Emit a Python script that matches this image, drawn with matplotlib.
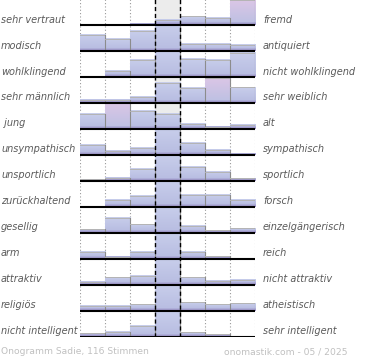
import matplotlib
matplotlib.use("Agg")
import matplotlib.pyplot as plt
import numpy as np
from matplotlib.colors import to_rgb

# semantic differential pairs (left / right pole)
left_labels = ["sehr vertraut", "modisch", "wohlklingend", "sehr männlich", " jung",
               "unsympathisch", "unsportlich", "zurückhaltend", "gesellig", "arm",
               "attraktiv", "religiös", "nicht intelligent"]
right_labels = ["fremd", "antiquiert", "nicht wohlklingend", "sehr weiblich", "alt",
                "sympathisch", "sportlich", "forsch", "einzelgängerisch", "reich",
                "nicht attraktiv", "atheistisch", "sehr intelligent"]

# relative bar heights per row (7 steps, 100 = full row)
heights = [
    [0, 0, 6, 19, 33, 26, 95],
    [62, 45, 77, 100, 27, 27, 22],
    [1, 24, 67, 100, 69, 65, 94],
    [12, 12, 23, 77, 58, 97, 60],
    [58, 100, 68, 58, 20, 8, 15],
    [37, 15, 28, 100, 47, 18, 5],
    [6, 12, 46, 100, 55, 36, 10],
    [0, 28, 42, 100, 47, 45, 27],
    [13, 58, 33, 100, 26, 9, 17],
    [27, 8, 27, 100, 26, 10, 0],
    [12, 28, 35, 100, 28, 15, 18],
    [19, 19, 24, 100, 33, 24, 28],
    [13, 19, 42, 100, 17, 9, 0],
]

footer_left = "Onogramm Sadie, 116 Stimmen"
footer_right = "onomastik.com - 05 / 2025"

W, H = 370, 360
fig = plt.figure(figsize=(W / 100, H / 100), dpi=100)
fig.patch.set_facecolor("white")

x0_px, x1_px = 79.7, 255.0
top_px, base_px = -0.9, 336.7
ax = fig.add_axes([x0_px / W, (H - base_px) / H, (x1_px - x0_px) / W, (base_px - top_px) / H])
ax.axis("off")

nrows = len(heights)
ax.axvspan(3, 4, color="#ececec", zorder=0)

for x in [0, 1, 2, 5, 6, 7]:
    ax.plot([x, x], [0, 13], color="#999999", lw=0.8, ls=(0, (1, 2)), zorder=1)


def grad(c_top, c_bot, n=32):
    a = np.array(to_rgb(c_top))
    b = np.array(to_rgb(c_bot))
    t = np.linspace(0, 1, n)[:, None]
    return (a * (1 - t) + b * t)[:, None, :]


blue_main = grad("#c8ceeb", "#b9bee2")
pink_main = grad("#dcc6e6", "#bfc1e3")
stripe = grad("#b3b5dd", "#9686c0", 8)

for k, row in enumerate(heights):
    base = nrows - 1 - k
    vals = np.array(row) / 100.0
    center = vals[3]
    for i, v in enumerate(vals):
        if v <= 0:
            continue
        pink = v > center and v == vals.max() and i != 3
        img = pink_main if pink else blue_main
        sh = min(0.1, v)
        ax.imshow(img, extent=[i, i + 1, base + sh, base + v], aspect="auto",
                  interpolation="bilinear", zorder=2)
        ax.imshow(stripe, extent=[i, i + 1, base, base + sh], aspect="auto",
                  interpolation="bilinear", zorder=2)
        ax.plot([i, i + 1], [base + v, base + v], color="#b4b4b4", lw=0.7, zorder=3)
        ax.plot([i + 1, i + 1], [base, base + v], color="#8c8c8c", lw=0.8, zorder=3)
    ax.plot([0, 7], [base, base], color="black", lw=1.5, zorder=5, solid_capstyle="butt")

for x in [3, 4]:
    ax.plot([x, x], [0, 13], color="black", lw=1.0, ls=(0, (3, 2)), zorder=6)

ax.set_xlim(0, 7)
ax.set_ylim(0, 13)

row_h = (base_px - top_px) / 13
for k in range(nrows):
    yb = top_px + row_h * (k + 1)
    y = 1 - (yb - 5.5) / H
    fig.text(1 / W, y, left_labels[k], ha="left", va="center", fontsize=7.0,
             style="italic", color="#5a5a5a")
    fig.text(263 / W, y, right_labels[k], ha="left", va="center", fontsize=7.0,
             style="italic", color="#5a5a5a")

fig.text(1 / W, 1 - 352 / H, footer_left, ha="left", va="center", fontsize=6.6, color="#c0c0c0")
fig.text(347 / W, 1 - 352 / H, footer_right, ha="right", va="center", fontsize=6.6, color="#c0c0c0")

fig.savefig("out.png", dpi=100, facecolor="white")
